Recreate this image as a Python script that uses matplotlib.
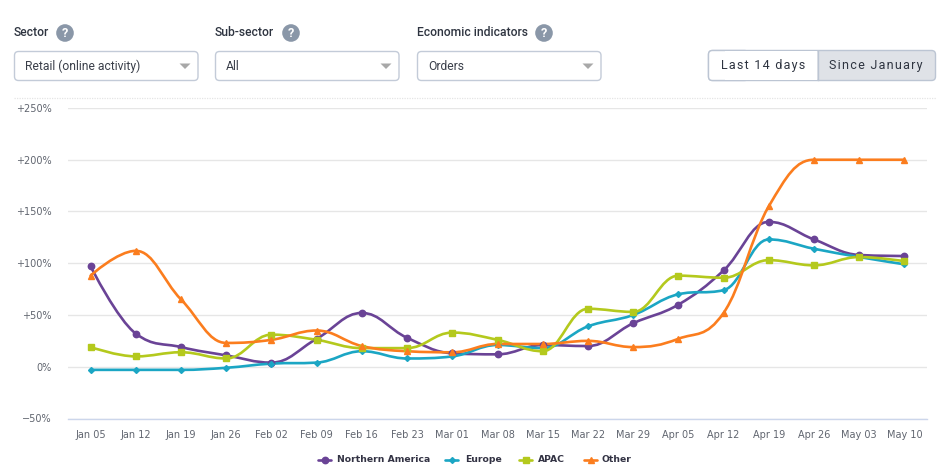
import numpy as np
import matplotlib
matplotlib.use("Agg")
import matplotlib.pyplot as plt
from matplotlib.path import Path
from matplotlib.patches import PathPatch, FancyBboxPatch, Circle, Polygon, Rectangle

W, H = 945, 476

weeks = ["Jan 05", "Jan 12", "Jan 19", "Jan 26", "Feb 02", "Feb 09", "Feb 16", "Feb 23",
         "Mar 01", "Mar 08", "Mar 15", "Mar 22", "Mar 29", "Apr 05", "Apr 12", "Apr 19",
         "Apr 26", "May 03", "May 10"]
northern_america = [97, 32, 19, 11, 4, 27, 52, 28, 13, 12, 21, 20, 42, 60, 93, 140, 123, 108, 107]
europe = [-3, -3, -3, -1, 3, 4, 15, 8, 10, 21, 18, 39, 50, 70, 74, 123, 114, 106, 99]
apac = [19, 10, 14, 8, 31, 26, 18, 18, 33, 26, 15, 56, 53, 88, 86, 103, 98, 106, 102]
other = [88, 112, 65, 23, 26, 35, 20, 15, 14, 22, 22, 25, 19, 27, 52, 155, 200, 200, 200]
yticks = [-50, 0, 50, 100, 150, 200, 250]
ytick_labels = ["\u221250%", "0%", "+50%", "+100%", "+150%", "+200%", "+250%"]

series = [
    ("Northern America", northern_america, "#6a4396", "o", 4.6),
    ("Europe", europe, "#1ba6c4", "D", 3.0),
    ("APAC", apac, "#b4c91d", "s", 5.0),
    ("Other", other, "#fb7d1e", "^", 5.0),
]


def spline_path(xs, ys, smoothing=1.5):
    # same bezier handles a highcharts spline uses
    d = smoothing + 1
    verts = [(xs[0], ys[0])]
    codes = [Path.MOVETO]
    n = len(xs)
    left = [None] * n
    right = [None] * n
    for i in range(n):
        if i == 0 or i == n - 1:
            left[i] = right[i] = (xs[i], ys[i])
            continue
        x, y = xs[i], ys[i]
        lx = (smoothing * x + xs[i - 1]) / d
        ly = (smoothing * y + ys[i - 1]) / d
        rx = (smoothing * x + xs[i + 1]) / d
        ry = (smoothing * y + ys[i + 1]) / d
        corr = (ry - ly) * (rx - x) / (rx - lx) + y - ry
        ly += corr
        ry += corr
        if ly > ys[i - 1] and ly > y:
            ly = max(ys[i - 1], y)
            ry = 2 * y - ly
        elif ly < ys[i - 1] and ly < y:
            ly = min(ys[i - 1], y)
            ry = 2 * y - ly
        if ry > ys[i + 1] and ry > y:
            ry = max(ys[i + 1], y)
            ly = 2 * y - ry
        elif ry < ys[i + 1] and ry < y:
            ry = min(ys[i + 1], y)
            ly = 2 * y - ry
        left[i] = (lx, ly)
        right[i] = (rx, ry)
    for i in range(1, n):
        verts += [right[i - 1], left[i], (xs[i], ys[i])]
        codes += [Path.CURVE4] * 3
    return Path(verts, codes)


fig = plt.figure(figsize=(W / 100, H / 100), dpi=100)

# chart area, in pixels: x 68-927, y 108-418.5
ax = fig.add_axes([68 / W, 1 - 418.5 / H, (927 - 68) / W, (418.5 - 108) / H])
x = np.arange(len(weeks))
ax.set_xlim(-0.5, len(weeks) - 0.5)
ax.set_ylim(-50, 250)
ax.set_yticks(yticks)
ax.set_yticklabels(ytick_labels)
ax.set_xticks(x)
ax.set_xticklabels(weeks)
ax.tick_params(axis="both", length=0, labelsize=7, labelcolor="#60656f")
ax.tick_params(axis="y", pad=12)
ax.tick_params(axis="x", pad=8)
ax.grid(axis="y", color="#e6e6e6", lw=1)
ax.set_axisbelow(True)
for s in ["top", "left", "right"]:
    ax.spines[s].set_visible(False)
ax.spines["bottom"].set_color("#ccd6eb")
ax.spines["bottom"].set_linewidth(1)

for name, vals, col, mk, ms in series:
    ax.add_patch(PathPatch(spline_path(list(x), vals), fc="none", ec=col, lw=1.9, zorder=3,
                           clip_on=False, capstyle="round"))
    ax.plot(x, vals, ls="none", marker=mk, ms=ms, color=col, mec=col, zorder=4, clip_on=False)

# page controls, drawn in pixel coordinates
ui = fig.add_axes([0, 0, 1, 1], zorder=5)
ui.set_xlim(0, W)
ui.set_ylim(H, 0)
ui.axis("off")
ui.patch.set_alpha(0)

ui.plot([14, 936], [98, 98], color="#e4e4e4", lw=0.9, ls=(0, (1, 1)))

filters = [
    ("Sector", 14, 65, "Retail (online activity)"),
    ("Sub-sector", 215, 291, "All"),
    ("Economic indicators", 417, 544, "Orders"),
]
for label, left, help_x, value in filters:
    ui.text(left, 33, label, family="Roboto", fontsize=8.7, fontweight="medium",
            color="#2e3440", va="center", ha="left")
    ui.add_patch(Circle((help_x, 33), 8.8, fc="#8a97a8", ec="none"))
    ui.text(help_x, 33.5, "?", family="Roboto", fontsize=9, fontweight="bold", color="white",
            va="center", ha="center")
    ui.add_patch(FancyBboxPatch((left + 0.5, 51.5), 183.5, 29, boxstyle="round,pad=0,rounding_size=4",
                                fc="white", ec="#c3cbd8", lw=1))
    ui.text(left + 11, 66, value, family="Roboto", fontsize=8.7, color="#3a3f4a", va="center", ha="left")
    arrow_x = left + 171
    ui.add_patch(Polygon([(arrow_x - 5.5, 63.5), (arrow_x + 5.5, 63.5), (arrow_x, 69)], closed=True,
                         fc="#a8a8a8", ec="none"))

# period toggle, letters spaced out with hair spaces
ui.add_patch(FancyBboxPatch((708.5, 50.5), 227, 30, boxstyle="round,pad=0,rounding_size=4",
                            fc="#dfe2e7", ec="#bcc5d3", lw=1))
ui.add_patch(FancyBboxPatch((708.5, 50.5), 40, 30, boxstyle="round,pad=0,rounding_size=4",
                            fc="white", ec="#bcc5d3", lw=1))
ui.add_patch(Rectangle((725, 51), 92, 29, fc="white", ec="none"))
ui.plot([817.5, 817.5], [51, 80], color="#bcc5d3", lw=1)
ui.text(763, 65.5, "\u200a".join("Last 14 days"), family="Roboto", fontsize=9, color="#2e3440",
        va="center", ha="center")
ui.text(876, 65.5, "\u200a".join("Since January"), family="Roboto", fontsize=9, color="#2e3440",
        va="center", ha="center")

# legend
legend_items = [(318, 337), (445, 465), (519, 538), (584, 602)]
for (name, vals, col, mk, ms), (lx, tx) in zip(series, legend_items):
    ui.plot([lx, lx + 13], [459.5, 459.5], color=col, lw=1.9, solid_capstyle="round")
    ui.plot([lx + 6.5], [459.5], marker=mk, ms=ms, color=col, mec=col)
    ui.text(tx, 459.5, name, family="DejaVu Sans", fontsize=6.7, fontweight="bold", color="#333344",
            va="center", ha="left")

fig.savefig("out.png", dpi=100)
